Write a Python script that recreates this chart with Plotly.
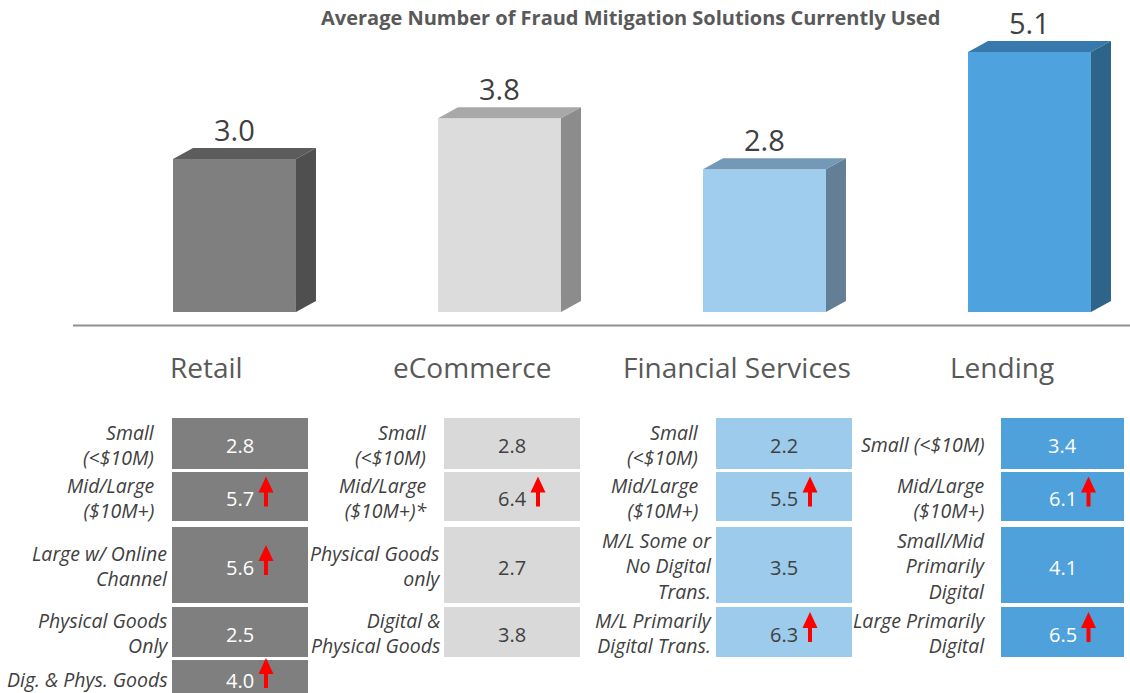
import plotly.graph_objects as go

# ---------------- data ----------------
categories = ["Retail", "eCommerce", "Financial Services", "Lending"]
avg_values = [3.0, 3.8, 2.8, 5.1]

retail_labels = ["Small<br>(<$10M)", "Mid/Large<br>($10M+)", "Large w/ Online<br>Channel",
                 "Physical Goods<br>Only", "Dig. & Phys. Goods"]
retail_values = [2.8, 5.7, 5.6, 2.5, 4.0]
retail_up = [False, True, True, False, True]

ecom_labels = ["Small<br>(<$10M)", "Mid/Large<br>($10M+)*", "Physical Goods<br>only",
               "Digital &<br>Physical Goods"]
ecom_values = [2.8, 6.4, 2.7, 3.8]
ecom_up = [False, True, False, False]

fs_labels = ["Small<br>(<$10M)", "Mid/Large<br>($10M+)", "M/L Some or<br>No Digital<br>Trans.",
             "M/L Primarily<br>Digital Trans."]
fs_values = [2.2, 5.5, 3.5, 6.3]
fs_up = [False, True, False, True]

lend_labels = ["Small (<$10M)", "Mid/Large<br>($10M+)", "Small/Mid<br>Primarily<br>Digital",
               "Large Primarily<br>Digital"]
lend_values = [3.4, 6.1, 4.1, 6.5]
lend_up = [False, True, False, True]

title_text = "Average Number of Fraud Mitigation Solutions Currently Used"

# ---------------- styles / layout constants ----------------
W, H = 1130, 693
FONT = "Open Sans"
front_colors = ["#7f7f7f", "#dcdcdc", "#9ecdee", "#4ea3df"]
top_colors = ["#5c5c5c", "#a8a8a8", "#7399b7", "#3779ad"]
side_colors = ["#4f4f4f", "#8c8c8c", "#637f96", "#2e6489"]
cell_colors = ["#7f7f7f", "#d9d9d9", "#9dcbec", "#4ea1db"]
cell_text_colors = ["#ffffff", "#404040", "#404040", "#ffffff"]

PX_PER_UNIT = 51.0     # vertical scale of the bar axis
BASE_PX = 312.0        # pixel row of bar bottoms
DOMAIN_BOTTOM_PX = 330.0
SPACING_PX = 265.0
FIRST_CENTER_PX = 234.5
BAR_W = 0.464
DX, DY = 20 / SPACING_PX, 11 / PX_PER_UNIT  # 3-D depth offsets (axis units)

row_tops = [418, 472, 527, 607, 660]
row_bottoms = [469, 521, 603, 657, 696]
box_left = [172, 444, 716, 1001]
box_right = [308, 580, 852, 1124]
label_pad = [[15, 15, 2, 2, 2], [15, 15, 2, 2], [15, 15, 2, 2], [14, 14, 14, 14]]

tables = [
    (retail_labels, retail_values, retail_up),
    (ecom_labels, ecom_values, ecom_up),
    (fs_labels, fs_values, fs_up),
    (lend_labels, lend_values, lend_up),
]

fig = go.Figure()

# ---------------- table cells (full-figure pixel axis) ----------------
cell_x, cell_base, cell_h, cell_w, cell_col = [], [], [], [], []
for c, (labels, values, ups) in enumerate(tables):
    cx = (box_left[c] + box_right[c]) / 2
    for r, (lab, val, up) in enumerate(zip(labels, values, ups)):
        top, bot = row_tops[r], row_bottoms[r]
        cy = (top + bot) / 2
        cell_x.append(cx)
        cell_base.append(top)
        cell_h.append(bot - top)
        cell_w.append(box_right[c] - box_left[c])
        cell_col.append(cell_colors[c])
        fig.add_annotation(x=cx, y=cy + 2, xref="x2", yref="y2", text=f"{val:.1f}",
                           showarrow=False,
                           font=dict(family=FONT, size=20, color=cell_text_colors[c]))
        fig.add_annotation(x=box_left[c] - label_pad[c][r], y=cy + 1, xref="x2", yref="y2",
                           text=lab, showarrow=False, xanchor="right", align="right",
                           font=dict(family=FONT, size=19.5, color="#404040", style="italic"))
        if up:
            ax = cx + 26
            ay = cy - 5
            head_top, head_base, tail = ay - 15, ay + 1, ay + 15
            fig.add_shape(type="path", xref="x2", yref="y2",
                          path=(f"M {ax - 7.5} {head_base} L {ax} {head_top} L {ax + 7.5} {head_base} "
                                f"L {ax + 2} {head_base} L {ax + 2} {tail} L {ax - 2} {tail} "
                                f"L {ax - 2} {head_base} Z"),
                          fillcolor="#ff0000", line=dict(width=0), layer="above")

fig.add_trace(go.Bar(
    x=cell_x, base=cell_base, y=cell_h, width=cell_w,
    marker=dict(color=cell_col, line=dict(width=0)),
    hoverinfo="skip", showlegend=False, xaxis="x2", yaxis="y2",
))

# ---------------- 3-D bars ----------------
xs = list(range(len(categories)))
fig.add_trace(go.Bar(
    x=xs, y=avg_values, width=BAR_W,
    marker=dict(color=front_colors, line=dict(width=0)),
    hoverinfo="skip", showlegend=False, xaxis="x", yaxis="y",
))
for i, v in enumerate(avg_values):
    x0, x1 = i - BAR_W / 2, i + BAR_W / 2
    # top face
    fig.add_trace(go.Scatter(
        x=[x0, x1, x1 + DX, x0 + DX, x0], y=[v, v, v + DY, v + DY, v],
        fill="toself", fillcolor=top_colors[i], mode="lines",
        line=dict(width=0, color=top_colors[i]), hoverinfo="skip", showlegend=False,
        xaxis="x", yaxis="y"))
    # side face
    fig.add_trace(go.Scatter(
        x=[x1, x1 + DX, x1 + DX, x1, x1], y=[0, DY, v + DY, v, 0],
        fill="toself", fillcolor=side_colors[i], mode="lines",
        line=dict(width=0, color=side_colors[i]), hoverinfo="skip", showlegend=False,
        xaxis="x", yaxis="y"))
    fig.add_annotation(x=i, y=v + DY, xref="x", yref="y", text=f"{v:.1f}",
                       showarrow=False, yanchor="bottom", yshift=-3,
                       font=dict(family=FONT, size=29, color="#404040"))
    fig.add_annotation(x=i, y=367, xref="x", yref="y2", text=categories[i],
                       showarrow=False, xshift=-28,
                       font=dict(family=FONT, size=28, color="#595959"))

# baseline
fig.add_shape(type="line", xref="x2", yref="y2", x0=73, x1=W, y0=325.5, y1=325.5,
              line=dict(color="#8f8f8f", width=2))

# title
fig.add_annotation(x=630, y=17, xref="x2", yref="y2", text=f"<b>{title_text}</b>",
                   showarrow=False, font=dict(family=FONT, size=20, color="#595959"))

x_lo = -FIRST_CENTER_PX / SPACING_PX
x_hi = (W - FIRST_CENTER_PX) / SPACING_PX
y_hi = BASE_PX / PX_PER_UNIT
y_lo = -(DOMAIN_BOTTOM_PX - BASE_PX) / PX_PER_UNIT

fig.update_layout(
    width=W, height=H,
    margin=dict(l=0, r=0, t=0, b=0),
    paper_bgcolor="white", plot_bgcolor="rgba(0,0,0,0)",
    barmode="overlay",
    showlegend=False,
    xaxis=dict(domain=[0, 1], range=[x_lo, x_hi], visible=False, fixedrange=True),
    yaxis=dict(domain=[1 - DOMAIN_BOTTOM_PX / H, 1], range=[y_lo, y_hi], visible=False,
               fixedrange=True),
    xaxis2=dict(domain=[0, 1], range=[0, W], visible=False, anchor="y2", fixedrange=True),
    yaxis2=dict(domain=[0, 1], range=[H, 0], visible=False, anchor="x2", fixedrange=True),
)

fig.write_html("out.html", config={"displayModeBar": False},
               post_script="document.body.style.margin='0px';document.body.style.padding='0px';")
